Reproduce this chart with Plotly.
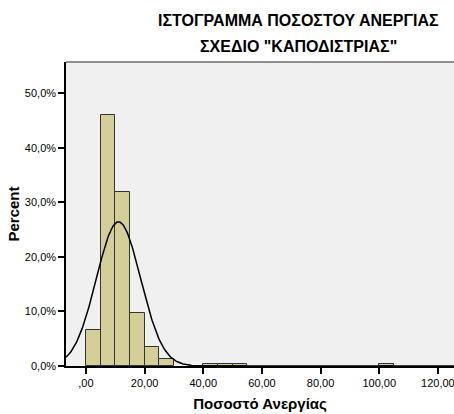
import numpy as np
import plotly.graph_objects as go

# Histogram bins (left edges, width 5) and percent of cases per bin
bin_left = [0, 5, 10, 15, 20, 25, 40, 45, 50, 100]
bin_pct = [6.6, 45.9, 31.9, 9.7, 3.4, 1.3, 0.3, 0.3, 0.3, 0.3]
bin_width = 5

# Normal curve parameters (sample mean / std. deviation)
curve_mean = 11.1
curve_sd = 7.55

x_tick_vals = [0, 20, 40, 60, 80, 100, 120]
x_tick_text = [",00", "20,00", "40,00", "60,00", "80,00", "100,00", "120,00"]
y_tick_vals = [0, 10, 20, 30, 40, 50]
y_tick_text = ["0,0%", "10,0%", "20,0%", "30,0%", "40,0%", "50,0%"]

x_range = [-6.8, 125.5]
y_range = [0, 55.7]

fig = go.Figure()

fig.add_trace(go.Bar(
    x=[b + bin_width / 2 for b in bin_left],
    y=bin_pct,
    width=bin_width,
    marker=dict(color="#d4cf99", line=dict(color="#333333", width=1)),
    hoverinfo="skip",
))

xs = np.linspace(x_range[0], x_range[1], 600)
ys = 100 * bin_width * np.exp(-0.5 * ((xs - curve_mean) / curve_sd) ** 2) / (curve_sd * np.sqrt(2 * np.pi))
fig.add_trace(go.Scatter(x=xs, y=ys, mode="lines", line=dict(color="black", width=1.5), hoverinfo="skip"))

W, H = 454, 414
ml, mr, mt, mb = 66, 0, 62, 48

fig.update_layout(
    width=W, height=H,
    margin=dict(l=ml, r=mr, t=mt, b=mb, autoexpand=False),
    paper_bgcolor="white",
    plot_bgcolor="#f0f0f0",
    showlegend=False,
    bargap=0,
    font=dict(family="Liberation Sans, Arial, sans-serif", color="black", size=11),
    xaxis=dict(
        range=x_range, tickvals=x_tick_vals, ticktext=x_tick_text,
        showgrid=False, zeroline=False, showline=True, linecolor="black", linewidth=1.5,
        ticks="outside", ticklen=6, tickcolor="black", tickwidth=1.5,
        ticklabeloverflow="allow",
        title=dict(text="<b>Ποσοστό Ανεργίας</b>", font=dict(size=15), standoff=11),
    ),
    yaxis=dict(
        range=y_range, tickvals=y_tick_vals, ticktext=y_tick_text,
        showgrid=False, zeroline=False, showline=True, linecolor="black", linewidth=1.5,
        ticks="outside", ticklen=6, tickcolor="black", tickwidth=1.5,
        title=dict(text="<b>Percent</b>", font=dict(size=15), standoff=2),
    ),
    shapes=[dict(type="line", xref="paper", yref="paper", x0=0, x1=1, y0=1, y1=1,
                 line=dict(color="#6e6e6e", width=1.5))],
    annotations=[
        dict(text="<b>ΙΣΤΟΓΡΑΜΜΑ ΠΟΣΟΣΤΟΥ ΑΝΕΡΓΙΑΣ</b>", xref="paper", yref="paper",
             x=(298 - ml) / (W - ml - mr), y=1 + (mt - 20) / (H - mt - mb),
             xanchor="center", yanchor="middle", showarrow=False, font=dict(size=16)),
        dict(text="<b>ΣΧΕΔΙΟ \"ΚΑΠΟΔΙΣΤΡΙΑΣ\"</b>", xref="paper", yref="paper",
             x=(298 - ml) / (W - ml - mr), y=1 + (mt - 46) / (H - mt - mb),
             xanchor="center", yanchor="middle", showarrow=False, font=dict(size=16)),
    ],
)

fig.write_html("out.html")
